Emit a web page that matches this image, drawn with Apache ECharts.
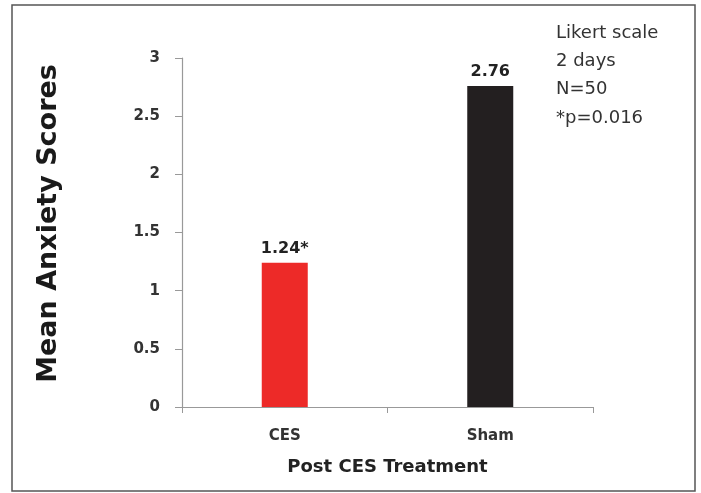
<!DOCTYPE html>
<html>
<head>
<meta charset="utf-8">
<script src="https://cdn.jsdelivr.net/npm/echarts@6/dist/echarts.min.js"></script>
<style>html,body{margin:0;padding:0;background:#fff}#c{width:701px;height:493px}</style>
</head>
<body>
<div id="c"></div>
<script>
const categories = ['CES', 'Sham'];
const values = [1.24, 2.76];
const valueLabels = ['1.24*', '2.76'];
const barColors = ['#ED2A28', '#231F20'];
const noteLines = ['Likert scale', '2 days', 'N=50', '*p=0.016'];
const yTitle = 'Mean Anxiety Scores';
const xTitle = 'Post CES Treatment';

const FONT = '"DejaVu Sans", sans-serif';
const chart = echarts.init(document.getElementById('c'), null, {renderer: 'canvas'});
chart.setOption({
  animation: false,
  backgroundColor: '#fff',
  textStyle: {fontFamily: FONT},
  title: {
    text: noteLines.join('\n'),
    left: 551, top: 14,
    textStyle: {fontFamily: FONT, fontSize: 18, fontWeight: 'normal', color: '#333', lineHeight: 28.3}
  },
  graphic: [{
    type: 'rect', silent: true,
    shape: {x: 12, y: 5, width: 683, height: 486},
    style: {fill: 'none', stroke: '#555', lineWidth: 1.5}
  }],
  grid: {left: 182, top: 58, right: 108, bottom: 86},
  xAxis: {
    type: 'category',
    data: categories,
    name: xTitle,
    nameLocation: 'middle',
    nameGap: 51,
    nameTextStyle: {fontFamily: FONT, fontSize: 18, fontWeight: 'bold', color: '#222'},
    axisLine: {lineStyle: {color: '#999', width: 1.2}},
    axisTick: {show: true, length: 6, lineStyle: {color: '#999'}},
    axisLabel: {margin: 22, fontFamily: FONT, fontSize: 15, fontWeight: 'bold', color: '#333'}
  },
  yAxis: {
    type: 'value',
    min: 0, max: 3, interval: 0.5,
    name: yTitle,
    nameLocation: 'middle',
    nameGap: 120,
    nameRotate: 90,
    nameTextStyle: {fontFamily: FONT, fontSize: 27, fontWeight: 'bold', color: '#1a1a1a', padding: [0, 0, 0, 18]},
    axisLine: {show: true, lineStyle: {color: '#999', width: 1.2}},
    axisTick: {show: true, length: 7, lineStyle: {color: '#999'}},
    splitLine: {show: false},
    axisLabel: {margin: 22, fontFamily: FONT, fontSize: 15, fontWeight: 'bold', color: '#333'}
  },
  series: [{
    type: 'bar',
    barWidth: 46,
    data: values.map((v, i) => ({value: v, itemStyle: {color: barColors[i]}})),
    label: {
      show: true, position: 'top', distance: 6,
      formatter: p => valueLabels[p.dataIndex],
      fontFamily: FONT, fontSize: 16, fontWeight: 'bold', color: '#222'
    }
  }]
});
</script>
</body>
</html>
